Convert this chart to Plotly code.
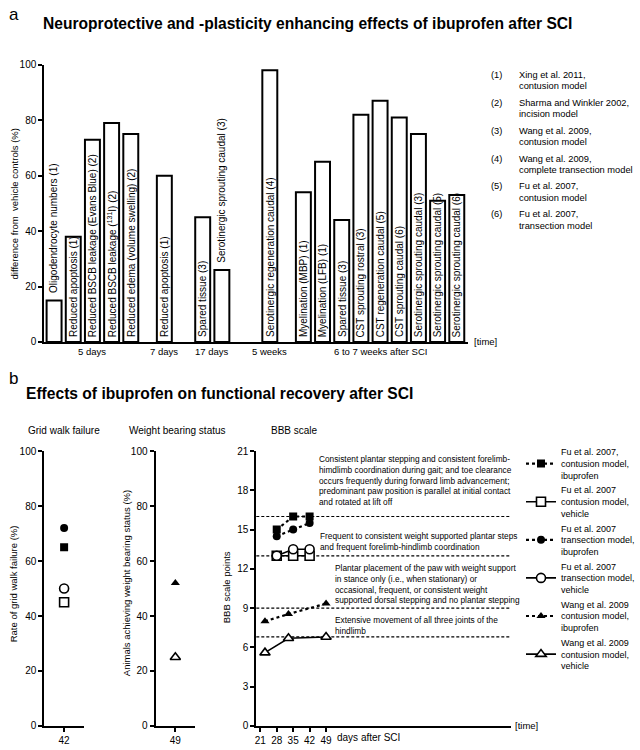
import plotly.graph_objects as go

# ---------------- data: panel a ----------------
GROUPS = ["5 days", "7 days", "17 days", "5 weeks", "6 to 7 weeks after SCI"]
GROUP_SIZES = [5, 1, 2, 1, 9]
BAR_LABELS = [
    "Oligodendrocyte numbers (1)",
    "Reduced apoptosis (1)",
    "Reduced BSCB leakage (Evans Blue) (2)",
    "Reduced BSCB leakage (<sup>131</sup>I) (2)",
    "Reduced edema (volume swelling) (2)",
    "Reduced apoptosis (1)",
    "Spared tissue (3)",
    "Serotinergic sprouting caudal (3)",
    "Serotinergic regeneration caudal (4)",
    "Myelination (MBP) (1)",
    "Myelination (LFB) (1)",
    "Spared tissue (3)",
    "CST sprouting rostral (3)",
    "CST regeneration caudal (5)",
    "CST sprouting caudal (6)",
    "Serotinergic sprouting caudal (3)",
    "Serotinergic sprouting caudal (5)",
    "Serotinergic sprouting caudal (6)",
]
BAR_VALUES = [15, 38, 73, 79, 75, 60, 45, 26, 98, 54, 65, 44, 82, 87, 81, 75, 51, 53]
Y_TICKS_A = [0, 20, 40, 60, 80, 100]

REF_NUMBERS = ["(1)", "(2)", "(3)", "(4)", "(5)", "(6)"]
REF_LINE1 = ["Xing et al. 2011,", "Sharma and Winkler 2002,", "Wang et al. 2009,",
             "Wang et al. 2009,", "Fu et al. 2007,", "Fu et al. 2007,"]
REF_LINE2 = ["contusion model", "incision model", "contusion model",
             "complete transection model", "contusion model", "transection model"]

# ---------------- data: panel b ----------------
SERIES_NAMES = [
    "Fu et al. 2007,<br>contusion model,<br>ibuprofen",
    "Fu et al. 2007<br>contusion model,<br>vehicle",
    "Fu et al. 2007<br>transection model,<br>ibuprofen",
    "Fu et al. 2007<br>transection model,<br>vehicle",
    "Wang et al. 2009<br>contusion model,<br>ibuprofen",
    "Wang et al. 2009<br>contusion model,<br>vehicle",
]
BBB_DAYS_FU = [28, 35, 42]
BBB_DAYS_WANG = [23, 33, 49]
BBB_FU_CONT_IBU = [15.0, 16.0, 16.0]
BBB_FU_CONT_VEH = [13.0, 13.0, 13.0]
BBB_FU_TRANS_IBU = [14.5, 15.0, 15.5]
BBB_FU_TRANS_VEH = [13.0, 13.5, 13.5]
BBB_WANG_IBU = [8.0, 8.55, 9.35]
BBB_WANG_VEH = [5.6, 6.7, 6.8]

GRIDWALK_DAY = 42
GRIDWALK_VALUES = [65, 45, 72, 50, None, None]   # per series
WEIGHT_DAY = 49
WEIGHT_VALUES = [None, None, None, None, 52, 25]  # per series

BBB_TICKS_X = [21, 28, 35, 42, 49]
BBB_TICKS_Y = [0, 3, 6, 9, 12, 15, 18, 21]
BBB_LEVELS = [16, 13, 9, 6.8]
BBB_LEVEL_TEXT = [
    "Consistent plantar stepping and consistent forelimb-<br>himdlimb coordination during gait; and toe clearance<br>occurs frequently during forward limb advancement;<br>predominant paw position is parallel at initial contact<br>and rotated at lift off",
    "Frequent to consistent weight supported plantar steps<br>and frequent forelimb-hindlimb coordination",
    "Plantar placement of the paw with weight support<br>in stance only (i.e., when stationary) or<br>occasional, frequent, or consistent weight<br>supported dorsal stepping and no plantar stepping",
    "Extensive movement of all three joints of the<br>hindlimb",
]

# ---------------- style ----------------
FONT = "Arial, Liberation Sans, sans-serif"
W, H = 640, 750


def px(x):
    return x / W


def py(y):
    return 1 - y / H


# layout spacing (empty slots between time groups)
GAP_AFTER_GROUP = [0.75, 1.0, 1.5, 0.75]

slots = []
pos = 0.0
for gi, n in enumerate(GROUP_SIZES):
    for k in range(n):
        slots.append(pos)
        pos += 1
    if gi < len(GAP_AFTER_GROUP):
        pos += GAP_AFTER_GROUP[gi]

fig = go.Figure()

fig.add_trace(go.Bar(
    x=slots, y=BAR_VALUES, width=0.78,
    marker=dict(color="white", line=dict(color="black", width=2)),
    xaxis="x", yaxis="y", showlegend=False, hoverinfo="skip",
))

annotations = []
# bar labels
for s, lab, v in zip(slots, BAR_LABELS, BAR_VALUES):
    inside = v >= 30
    annotations.append(dict(
        x=s, y=1.0 if inside else v + 2, xref="x", yref="y",
        text=lab, textangle=-90, showarrow=False,
        xanchor="center", yanchor="bottom",
        font=dict(family=FONT, size=10, color="black"),
    ))
# group labels
start = 0
for g, n in zip(GROUPS, GROUP_SIZES):
    gs = slots[start:start + n]
    annotations.append(dict(
        x=sum(gs) / len(gs), y=py(352), xref="x", yref="paper",
        text=g, showarrow=False, xanchor="center", yanchor="middle",
        font=dict(family=FONT, size=9.5, color="black"),
    ))
    start += n

# ---------------- panel b traces ----------------
bbb_x = [BBB_DAYS_FU] * 4 + [BBB_DAYS_WANG] * 2
bbb_y = [BBB_FU_CONT_IBU, BBB_FU_CONT_VEH, BBB_FU_TRANS_IBU, BBB_FU_TRANS_VEH,
         BBB_WANG_IBU, BBB_WANG_VEH]
symbols = ["square", "square", "circle", "circle", "triangle-up", "triangle-up"]
filled = [True, False, True, False, True, False]

for i in range(6):
    mk = dict(symbol=symbols[i], size=8 if filled[i] else 9,
              color="black" if filled[i] else "white",
              line=dict(color="black", width=0 if filled[i] else 1.6))
    ln = dict(color="black", width=2.2 if filled[i] else 1.6,
              dash="dot" if filled[i] else "solid")
    fig.add_trace(go.Scatter(
        x=bbb_x[i], y=bbb_y[i], mode="lines+markers", name=SERIES_NAMES[i],
        marker=mk, line=ln, xaxis="x4", yaxis="y4", showlegend=True,
        legendgroup=str(i), hoverinfo="skip",
    ))
    if GRIDWALK_VALUES[i] is not None:
        fig.add_trace(go.Scatter(
            x=[GRIDWALK_DAY], y=[GRIDWALK_VALUES[i]], mode="markers",
            marker=mk, xaxis="x2", yaxis="y2", showlegend=False,
            legendgroup=str(i), hoverinfo="skip",
        ))
    if WEIGHT_VALUES[i] is not None:
        fig.add_trace(go.Scatter(
            x=[WEIGHT_DAY], y=[WEIGHT_VALUES[i]], mode="markers",
            marker=mk, xaxis="x3", yaxis="y3", showlegend=False,
            legendgroup=str(i), hoverinfo="skip",
        ))

shapes = []
for lv in BBB_LEVELS:
    shapes.append(dict(type="line", xref="x4 domain", yref="y4",
                       x0=0, x1=1, y0=lv, y1=lv,
                       line=dict(color="black", width=1.2, dash="3px,2px"),
                       layer="below"))

text_pos = [(318, 454), (319, 532), (334, 564), (334, 617)]
for (tx, ty), t in zip(text_pos, BBB_LEVEL_TEXT):
    annotations.append(dict(
        x=px(tx), y=py(ty), xref="paper", yref="paper", text=t,
        showarrow=False, xanchor="left", yanchor="top", align="left",
        font=dict(family=FONT, size=8.3, color="black"),
    ))


def txt(x, y, t, size=10, xa="left", ya="middle", angle=0, bold=False):
    annotations.append(dict(
        x=px(x), y=py(y), xref="paper", yref="paper",
        text=f"<b>{t}</b>" if bold else t, showarrow=False,
        xanchor=xa, yanchor=ya, textangle=angle,
        font=dict(family=FONT, size=size, color="black"),
    ))


# titles / labels
txt(5, 10, "a", size=17)
txt(39, 19, "Neuroprotective and -plasticity enhancing effects of ibuprofen after SCI", size=15.6, bold=True)
txt(5, 379, "b", size=17)
txt(22, 394, "Effects of ibuprofen on functional recovery after SCI", size=15.6, bold=True)
txt(12.5, 202, "difference from  vehicle controls (%)", size=9.5, xa="center", angle=-90)
txt(474, 342, "[time]", size=9.5)
for i, (n, l1, l2) in enumerate(zip(REF_NUMBERS, REF_LINE1, REF_LINE2)):
    y0 = 71 + i * 28.3
    txt(492, y0, n, size=9.3)
    txt(520, y0, l1, size=9.3)
    txt(520, y0 + 11.5, l2, size=9.3)

txt(63, 432, "Grid walk failure", size=10, xa="center")
txt(177, 432, "Weight bearing status", size=10, xa="center")
txt(270, 432, "BBB scale", size=10)
txt(12, 587, "Rate of grid walk failure (%)", size=9.5, xa="center", angle=-90)
txt(126, 587, "Animals achieving weight bearing status (%)", size=9.5, xa="center", angle=-90)
txt(226, 591, "BBB scale points", size=9.5, xa="center", angle=-90)
txt(336, 743, "days after SCI", size=10)
txt(516, 731.5, "[time]", size=9.5)

axis_common = dict(showline=True, linecolor="black", linewidth=2, mirror=False,
                   showgrid=False, zeroline=False, ticks="outside", ticklen=4,
                   tickwidth=2, tickcolor="black",
                   tickfont=dict(family=FONT, size=10, color="black"))

fig.update_layout(
    width=W, height=H, margin=dict(l=0, r=0, t=0, b=0),
    paper_bgcolor="white", plot_bgcolor="white",
    font=dict(family=FONT, size=10, color="black"),
    bargap=0.2,
    xaxis=dict(axis_common, domain=[px(42.7), px(470.7)], range=[-0.51, 21.6],
               ticks="", showticklabels=False, anchor="y"),
    yaxis=dict(axis_common, domain=[py(342), py(60.7)], range=[0, 100],
               tickvals=Y_TICKS_A, anchor="x"),
    xaxis2=dict(axis_common, domain=[px(42.7), px(82.7)], range=[GRIDWALK_DAY - 1, GRIDWALK_DAY + 1],
                tickvals=[GRIDWALK_DAY], anchor="y2"),
    yaxis2=dict(axis_common, domain=[py(731.7), py(452.7)], range=[0, 100],
                tickvals=Y_TICKS_A, anchor="x2"),
    xaxis3=dict(axis_common, domain=[px(155), px(195)], range=[WEIGHT_DAY - 1, WEIGHT_DAY + 1],
                tickvals=[WEIGHT_DAY], anchor="y3"),
    yaxis3=dict(axis_common, domain=[py(731.7), py(452.7)], range=[0, 100],
                tickvals=Y_TICKS_A, anchor="x3"),
    xaxis4=dict(axis_common, domain=[px(256.7), px(513.5)], range=[19.3, 127.6],
                tickvals=BBB_TICKS_X, anchor="y4"),
    yaxis4=dict(axis_common, domain=[py(731.7), py(452.7)], range=[0, 21],
                tickvals=BBB_TICKS_Y, anchor="x4"),
    legend=dict(x=px(524), y=py(441), xanchor="left", yanchor="top",
                font=dict(family=FONT, size=9, color="black"),
                itemwidth=30, tracegroupgap=3.5, bgcolor="rgba(0,0,0,0)",
                traceorder="normal"),
    shapes=shapes,
    annotations=annotations,
)

fig.write_html(
    "out.html",
    config={"displayModeBar": False},
    post_script="document.body.style.margin='0px';document.body.style.overflow='hidden';",
)
